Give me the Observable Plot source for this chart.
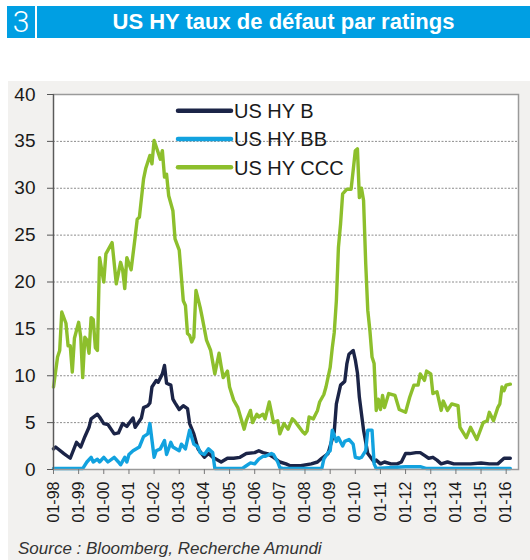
<!DOCTYPE html>
<html><head><meta charset="utf-8">
<script src="https://cdn.jsdelivr.net/npm/d3@7"></script>
<script src="https://cdn.jsdelivr.net/npm/@observablehq/plot@0.6"></script>
<style>
html,body{margin:0;padding:0;background:#fff;width:530px;height:560px;overflow:hidden;font-family:"Liberation Sans",Arial,sans-serif;}
#band{position:absolute;left:7px;top:6px;width:523px;height:32px;background:#009fe3;}
#num{position:absolute;left:7px;top:6px;width:28px;height:32px;line-height:32px;color:#fff;font-family:Roboto,"Liberation Sans",sans-serif;font-weight:300;font-size:30px;text-align:center;}
#sep{position:absolute;left:35px;top:6px;width:2px;height:32px;background:#fff;}
#title{position:absolute;left:37px;width:493px;top:6px;height:32px;line-height:32px;text-align:center;color:#fff;font-weight:bold;font-size:22px;font-family:"Liberation Sans",Arial,sans-serif;}
#panel{position:absolute;left:8px;top:81px;width:522px;height:479px;background:#f2f1ef;}
#chart{position:absolute;left:8px;top:81px;}
#legend{position:absolute;left:0;top:0;pointer-events:none;}
#source{position:absolute;left:18px;top:540px;font-style:italic;font-size:17px;line-height:17px;color:#333;white-space:nowrap;}
</style></head>
<body>
<div id="band"></div><div id="num">3</div><div id="sep"></div>
<div id="title">US HY taux de défaut par ratings</div>
<div id="panel"></div>
<div id="chart"></div>
<svg id="legend" width="530" height="560"></svg>
<div id="source">Source : Bloomberg, Recherche Amundi</div>
<script>
const seriesNames = ["US HY B", "US HY BB", "US HY CCC"];
const seriesColors = ["#1b2447", "#12a2df", "#8dbf2c"];
const yTickValues = [0, 5, 10, 15, 20, 25, 30, 35, 40];
const tickYears = [1998,1999,2000,2001,2002,2003,2004,2005,2006,2007,2008,2009,2010,2011,2012,2013,2014,2015,2016];

const bDates = [
 "1998-01","1998-02","1998-06","1998-09","1998-12",
 "1999-02","1999-04","1999-06","1999-07","1999-10","1999-11",
 "2000-01","2000-03","2000-06","2000-08","2000-10","2000-12",
 "2001-03","2001-04","2001-07","2001-08","2001-10","2001-11","2001-12",
 "2002-02","2002-03","2002-05","2002-06","2002-07","2002-09","2002-10","2002-11",
 "2003-01","2003-03","2003-05","2003-06","2003-08","2003-10",
 "2004-01","2004-03","2004-05","2004-09","2004-12",
 "2005-03","2005-06","2005-09",
 "2006-01","2006-03","2006-05","2006-07","2006-10",
 "2007-01","2007-04","2007-06","2007-11",
 "2008-04","2008-07","2008-09","2008-12",
 "2009-03","2009-04","2009-06","2009-08","2009-09","2009-10","2009-12",
 "2010-01","2010-02","2010-03","2010-05","2010-07","2010-10","2010-11",
 "2011-01","2011-03","2011-06","2011-09","2011-11",
 "2012-01","2012-03","2012-06","2012-08","2012-10","2012-12",
 "2013-02","2013-04","2013-06","2013-09","2013-12",
 "2014-04","2014-08",
 "2015-01","2015-05","2015-09","2015-12",
 "2016-03"];
const bValues = [
 2.2,2.4,1.7,1.2,2.9,
 2.4,3.5,4.5,5.4,5.9,5.6,
 4.9,4.8,3.8,3.9,4.9,4.6,
 5.5,4.5,5.5,6.6,6.8,7.1,8.8,
 9.5,9.3,10.2,11.1,9.2,9.0,7.5,7.1,
 6.4,6.8,6.5,4.9,3.8,2.2,
 1.3,1.7,1.3,0.8,1.2,
 1.2,1.3,1.7,
 1.8,2.0,1.8,1.7,1.3,
 0.8,0.6,0.4,0.4,
 0.6,0.8,1.2,1.7,
 4.0,7.0,9.0,9.4,11.3,12.3,12.7,
 11.7,10.3,7.7,4.2,1.7,0.8,1.0,
 0.6,0.8,0.6,0.6,0.8,
 1.7,1.7,1.8,1.8,1.5,1.2,
 1.3,1.0,0.6,0.8,0.6,
 0.6,0.6,
 0.7,0.6,0.6,1.2,
 1.2];

const bbDates = [
 "1998-01",
 "1999-03","1999-05","1999-07","1999-08","1999-10","1999-11",
 "2000-01","2000-03","2000-06","2000-08","2000-09","2000-11","2000-12",
 "2001-01","2001-03","2001-06","2001-08","2001-10","2001-11",
 "2002-01","2002-02","2002-04","2002-06","2002-07","2002-09","2002-10",
 "2003-01","2003-02","2003-04","2003-06","2003-08","2003-10","2003-11",
 "2004-01","2004-03","2004-05","2004-06",
 "2005-07","2005-09","2005-11",
 "2006-01","2006-03","2006-05","2006-06","2006-09","2006-10","2006-12",
 "2007-01","2007-03",
 "2008-09","2008-10","2008-12",
 "2009-01","2009-02","2009-04","2009-05","2009-07","2009-08","2009-10","2009-12",
 "2010-01","2010-03","2010-04","2010-06","2010-07","2010-09","2010-10","2010-11",
 "2012-01","2012-08","2012-11",
 "2016-03"];
const bbValues = [
 0.1,
 0.1,0.8,1.3,0.8,1.1,0.8,
 1.3,0.8,1.3,0.8,0.5,1.3,0.8,
 1.6,2.0,2.4,3.5,3.8,4.9,
 1.3,2.0,2.2,3.1,1.6,2.9,2.4,
 2.0,2.7,2.2,4.2,2.7,2.4,1.8,
 1.6,2.2,1.8,0.1,
 0.1,0.4,0.7,
 0.6,1.1,1.4,1.4,1.7,1.6,0.8,
 0.2,0.1,
 0.1,1.1,1.8,
 2.0,4.2,3.0,3.4,2.5,3.0,3.2,2.7,
 1.3,1.2,1.3,2.0,4.2,4.2,0.6,0.1,
 0.3,0.3,0.1,
 0.1];

const cccDates = [
 "1998-01","1998-03","1998-04","1998-05","1998-07","1998-08","1998-09","1998-10","1998-11",
 "1999-01","1999-02","1999-03","1999-04","1999-05","1999-06","1999-07","1999-08","1999-09","1999-10","1999-11",
 "2000-01","2000-02","2000-05","2000-07","2000-09","2000-10","2000-11","2000-12",
 "2001-02","2001-04","2001-05","2001-06","2001-08","2001-09","2001-11","2001-12",
 "2002-01","2002-03","2002-04","2002-05","2002-06","2002-07","2002-08","2002-10","2002-11",
 "2003-01","2003-03","2003-04","2003-05","2003-06","2003-07","2003-08","2003-09","2003-11","2003-12",
 "2004-02","2004-04","2004-06","2004-08","2004-09","2004-10","2004-12",
 "2005-01","2005-03","2005-05","2005-08","2005-09","2005-11","2005-12",
 "2006-02","2006-03","2006-05","2006-06","2006-08","2006-09","2006-10","2006-12",
 "2007-01","2007-03","2007-05","2007-07","2007-08","2007-10","2007-12",
 "2008-01","2008-02","2008-03","2008-05","2008-07","2008-08","2008-10","2008-11",
 "2009-01","2009-02","2009-03","2009-04","2009-05","2009-06","2009-07","2009-09","2009-11","2009-12",
 "2010-01","2010-02","2010-03","2010-04","2010-05","2010-06","2010-07","2010-08","2010-09","2010-10","2010-11","2010-12",
 "2011-01","2011-02","2011-03","2011-05","2011-08","2011-10",
 "2012-01","2012-03","2012-05","2012-07","2012-08","2012-10","2012-11",
 "2013-01","2013-02","2013-04","2013-06","2013-07","2013-09","2013-11",
 "2014-02","2014-03","2014-06","2014-08","2014-11",
 "2015-02","2015-04","2015-05","2015-07","2015-09","2015-10","2015-11","2015-12",
 "2016-01","2016-03"];
const cccValues = [
 8.8,12.0,12.7,16.8,15.6,13.2,13.2,10.4,14.0,
 15.7,14.1,9.8,14.1,13.8,12.4,16.2,16.0,13.0,12.7,22.6,
 20.0,23.0,24.2,19.8,22.1,21.3,19.3,22.6,
 21.3,24.8,26.7,26.9,31.0,32.1,33.5,32.6,
 35.1,33.8,33.1,34.0,31.2,31.5,29.2,27.6,24.6,
 23.4,18.0,17.5,14.5,14.3,13.6,14.1,19.1,17.3,16.2,
 13.8,12.7,10.2,12.4,11.0,9.8,10.5,
 8.8,7.4,6.6,4.3,5.2,6.3,5.0,
 5.9,5.6,5.9,5.4,7.2,6.1,5.0,5.2,
 3.8,4.9,4.3,5.4,5.2,4.6,4.0,
 3.8,4.1,5.6,5.4,6.3,7.2,8.0,8.8,
 10.9,13.0,14.6,18.0,23.7,26.2,29.4,29.9,29.9,31.9,
 34.0,34.2,29.0,30.0,28.7,22.0,17.0,14.8,12.0,11.3,6.3,7.5,
 6.4,7.9,6.6,8.1,7.9,6.4,
 6.1,7.7,9.0,9.0,10.2,9.5,10.5,
 10.2,8.1,8.3,6.3,7.3,6.3,7.0,
 6.8,4.5,3.4,4.5,3.2,
 5.0,5.2,6.1,5.2,6.6,7.0,8.8,8.4,
 9.0,9.1];

const parse = s => new Date(s + "-01T00:00:00Z");
const toRows = (dates, values, name) => dates.map((d, i) => ({date: parse(d), value: values[i], series: name}));
const series = [
  toRows(bDates, bValues, seriesNames[0]),
  toRows(bbDates, bbValues, seriesNames[1]),
  toRows(cccDates, cccValues, seriesNames[2])
];
const xStart = new Date(Date.UTC(1998, 0, 1));
const xEnd = new Date(Date.UTC(2016, 5, 28));
const xTicks = tickYears.map(y => new Date(Date.UTC(y, 0, 1)));

const chart = Plot.plot({
  width: 522, height: 454,
  marginLeft: 45, marginRight: 12, marginTop: 13, marginBottom: 66,
  style: {background: "transparent", fontFamily: "'Liberation Sans', Arial, sans-serif", color: "#1a1a1a", overflow: "visible"},
  x: {type: "utc", domain: [xStart, xEnd]},
  y: {domain: [0, 40]},
  marks: [
    Plot.frame({fill: "white", stroke: null}),
    Plot.gridY(yTickValues.slice(1, -1), {stroke: "#8c8c8c", strokeOpacity: 1, strokeDasharray: "2,1.5", strokeWidth: 1}),
    ...series.map((rows, i) => Plot.lineY(rows, {x: "date", y: "value", stroke: seriesColors[i], strokeWidth: 3.4, strokeLinejoin: "round", strokeLinecap: "round"})),
    Plot.frame({stroke: "#9a9a9a", strokeWidth: 1.5}),
    Plot.ruleX([xStart], {stroke: "#5a5a5a", strokeWidth: 1.2}),
    Plot.axisY(yTickValues, {tickSize: 6, tickPadding: 12, fontSize: 19, label: null, stroke: "#555"}),
    Plot.axisX(xTicks, {tickSize: 5, tickPadding: 7, tickRotate: -90, tickFormat: d3.utcFormat("%m-%y"), fontSize: 16, label: null, stroke: "#777"})
  ]
});
document.getElementById("chart").appendChild(chart);

// legend
const lg = d3.select("#legend");
seriesNames.forEach((name, i) => {
  const y = 110.7 + i * 28.3;
  lg.append("line").attr("x1", 178).attr("x2", 231).attr("y1", y).attr("y2", y)
    .attr("stroke", seriesColors[i]).attr("stroke-width", 4.5).attr("stroke-linecap", "round");
  lg.append("text").attr("x", 234).attr("y", y + 7.2).text(name)
    .attr("font-family", "'Liberation Sans', Arial, sans-serif").attr("font-size", 20).attr("fill", "#1a1a1a");
});
</script>
</body></html>
